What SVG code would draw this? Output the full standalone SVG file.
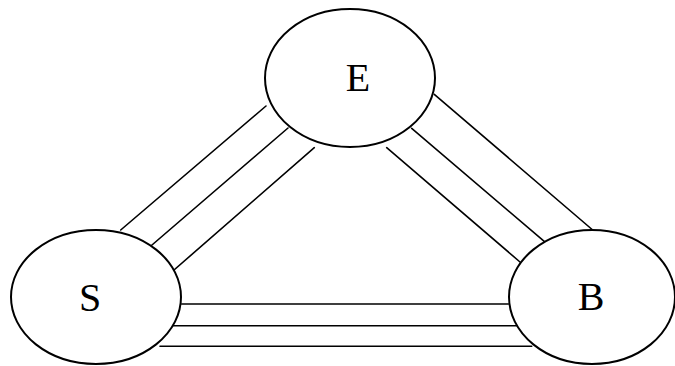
<svg xmlns="http://www.w3.org/2000/svg" width="675" height="366" viewBox="0 0 675 366">
<style>
.node ellipse{fill:#fff;stroke:#000;stroke-width:2}
.node text{font-family:"Liberation Serif","Times New Roman",serif;font-size:40px;fill:#000;text-anchor:middle}
.edges line{stroke:#000;stroke-width:1.6;stroke-linecap:round}
</style>
<rect width="675" height="366" fill="#fff"/>
<g id="connectors" class="edges">
<line x1="120.7" y1="230" x2="266" y2="106"/>
<line x1="145" y1="251" x2="288" y2="128"/>
<line x1="171.7" y1="272" x2="314.3" y2="147.7"/>
<line x1="434.3" y1="94.3" x2="592.7" y2="230"/>
<line x1="411.7" y1="128.3" x2="545.7" y2="242.7"/>
<line x1="386.7" y1="147.7" x2="520" y2="262"/>
<line x1="181.7" y1="304" x2="508.3" y2="304"/>
<line x1="170" y1="325.7" x2="521.7" y2="325.7"/>
<line x1="160" y1="346.3" x2="531.7" y2="346.3"/>
</g>
<g id="node-E" class="node">
<ellipse cx="350" cy="78" rx="85" ry="69" fill="none"/>
<text x="358" y="91">E</text>
</g>
<g id="node-S" class="node">
<ellipse cx="96" cy="297" rx="85" ry="67" fill="none"/>
<text x="90" y="311">S</text>
</g>
<g id="node-B" class="node">
<ellipse cx="592" cy="297" rx="83" ry="67" fill="none"/>
<text x="591" y="310">B</text>
</g>
</svg>
